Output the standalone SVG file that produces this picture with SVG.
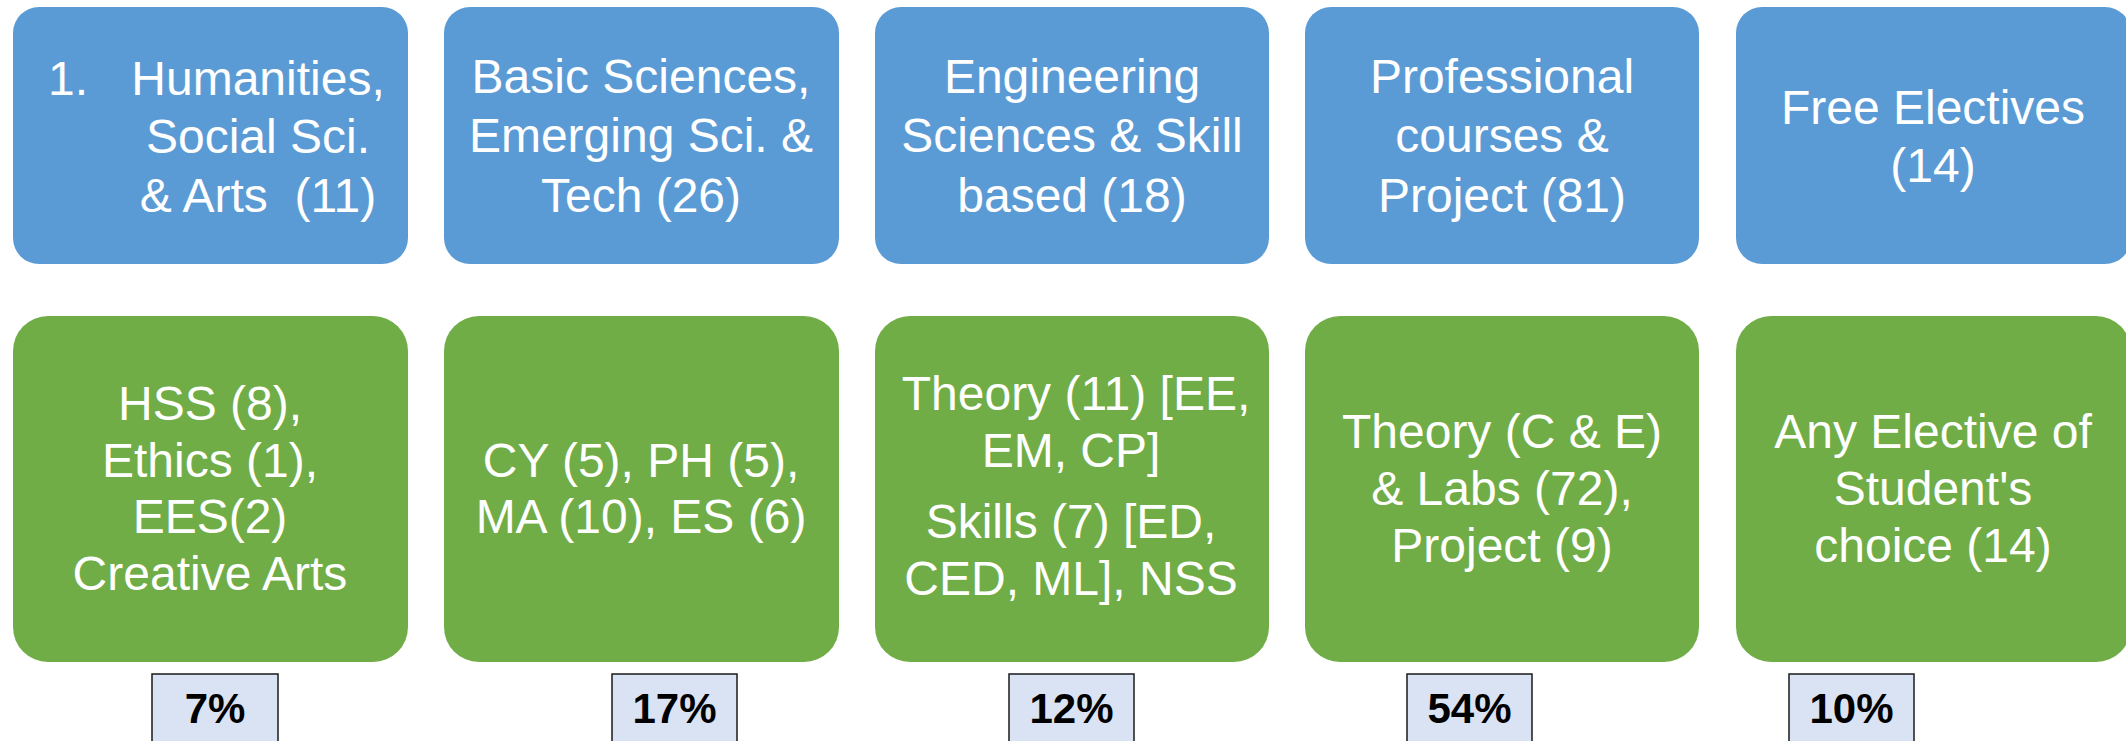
<svg xmlns="http://www.w3.org/2000/svg" width="2126" height="741" viewBox="0 0 2126 741">
<style>
.top{fill:#5B9BD5}
.bot{fill:#70AD47}
.pct{fill:#DAE3F3;stroke:#1a1a1a;stroke-width:1.5}
.t{font-family:"Liberation Sans",Arial,sans-serif;font-size:48px;fill:#fff;text-anchor:middle}
.p{font-family:"Liberation Sans",Arial,sans-serif;font-size:42px;font-weight:bold;fill:#000;text-anchor:middle}
</style>
<rect width="2126" height="741" fill="#fff"/>
<g id="connectors"></g>
<g id="cat1">
<rect class="top" x="13" y="7" width="395" height="257" rx="26"/>
<text class="t" x="48" y="95" style="text-anchor:start">1.</text>
<text class="t" x="258" y="95">Humanities,</text>
<text class="t" x="258" y="153">Social Sci.</text>
<text class="t" x="258" y="212" xml:space="preserve">&amp; Arts  (11)</text>
</g>
<g id="cat2">
<rect class="top" x="444" y="7" width="395" height="257" rx="26"/>
<text class="t" x="641" y="93">Basic Sciences,</text>
<text class="t" x="641" y="152">Emerging Sci. &amp;</text>
<text class="t" x="641" y="212">Tech (26)</text>
</g>
<g id="cat3">
<rect class="top" x="875" y="7" width="394" height="257" rx="26"/>
<text class="t" x="1072" y="93">Engineering</text>
<text class="t" x="1072" y="152">Sciences &amp; Skill</text>
<text class="t" x="1072" y="212">based (18)</text>
</g>
<g id="cat4">
<rect class="top" x="1305" y="7" width="394" height="257" rx="26"/>
<text class="t" x="1502" y="93">Professional</text>
<text class="t" x="1502" y="152">courses &amp;</text>
<text class="t" x="1502" y="212">Project (81)</text>
</g>
<g id="cat5">
<rect class="top" x="1736" y="7" width="395" height="257" rx="26"/>
<text class="t" x="1933" y="124">Free Electives</text>
<text class="t" x="1933" y="182">(14)</text>
</g>
<g id="det1">
<rect class="bot" x="13" y="316" width="395" height="346" rx="35"/>
<text class="t" x="210" y="420">HSS (8),</text>
<text class="t" x="210" y="477">Ethics (1),</text>
<text class="t" x="210" y="533">EES(2)</text>
<text class="t" x="210" y="590">Creative Arts</text>
</g>
<g id="det2">
<rect class="bot" x="444" y="316" width="395" height="346" rx="35"/>
<text class="t" x="641" y="477">CY (5), PH (5),</text>
<text class="t" x="641" y="533">MA (10), ES (6)</text>
</g>
<g id="det3">
<rect class="bot" x="875" y="316" width="394" height="346" rx="35"/>
<text class="t" x="1076" y="410">Theory (11) [EE,</text>
<text class="t" x="1071" y="467">EM, CP]</text>
<text class="t" x="1071" y="538">Skills (7) [ED,</text>
<text class="t" x="1071" y="595">CED, ML], NSS</text>
</g>
<g id="det4">
<rect class="bot" x="1305" y="316" width="394" height="346" rx="35"/>
<text class="t" x="1502" y="448">Theory (C &amp; E)</text>
<text class="t" x="1502" y="505">&amp; Labs (72),</text>
<text class="t" x="1502" y="562">Project (9)</text>
</g>
<g id="det5">
<rect class="bot" x="1736" y="316" width="395" height="346" rx="35"/>
<text class="t" x="1933" y="448">Any Elective of</text>
<text class="t" x="1933" y="505">Student's</text>
<text class="t" x="1933" y="562">choice (14)</text>
</g>
<g id="pct1"><rect class="pct" x="152" y="674" width="126" height="80"/><text class="p" x="215" y="723">7%</text></g>
<g id="pct2"><rect class="pct" x="612" y="674" width="125" height="80"/><text class="p" x="674.5" y="723">17%</text></g>
<g id="pct3"><rect class="pct" x="1009" y="674" width="125" height="80"/><text class="p" x="1071.5" y="723">12%</text></g>
<g id="pct4"><rect class="pct" x="1407" y="674" width="125" height="80"/><text class="p" x="1469.5" y="723">54%</text></g>
<g id="pct5"><rect class="pct" x="1789" y="674" width="125" height="80"/><text class="p" x="1851.5" y="723">10%</text></g>
</svg>
